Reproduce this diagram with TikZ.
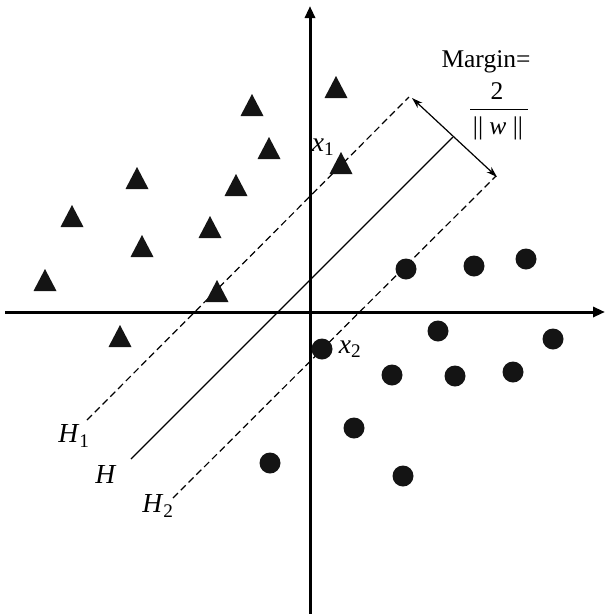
\documentclass[tikz,border=0pt]{standalone}
\usepackage{fontspec}
\setmainfont{Liberation Serif}
\usetikzlibrary{arrows.meta}
\begin{document}
\begin{tikzpicture}[x=1pt,y=-1pt,
  axis/.style={line width=3pt,-{Triangle[length=12pt,width=10pt]}},
  hyper/.style={line width=1.2pt},
  margline/.style={line width=1.2pt,dash pattern=on 7pt off 4pt},
  marrow/.style={line width=1.2pt,{Stealth[length=11pt,width=7pt]}-{Stealth[length=11pt,width=7pt]}},
  lab/.style={inner sep=0pt,font=\fontsize{27.5}{32}\selectfont},
  mlab/.style={inner sep=0pt,font=\fontsize{25.5}{30}\selectfont},
  datapt/.style={fill=black!92}]
\useasboundingbox (0,0) rectangle (605,614);
% axes
\coordinate (yb) at (310,614);
\coordinate (yt) at (310,6);
\coordinate (xl) at (5,312);
\coordinate (xr) at (605,312);
\draw[axis] (yb) -- (yt);
\draw[axis] (xl) -- (xr);
% hyperplanes
\coordinate (H1a) at (87,420);  \coordinate (H1b) at (409,97);
\coordinate (Ha)  at (131,459); \coordinate (Hb)  at (453,137);
\coordinate (H2a) at (173,498); \coordinate (H2b) at (496,176);
\draw[margline] (H1a) -- (H1b);
\draw[hyper] (Ha) -- (Hb);
\draw[margline] (H2a) -- (H2b);
\coordinate (M1) at (412,98);
\coordinate (M2) at (497,177);
\draw[marrow] (M1) -- (M2);
% triangles (center x / base y)
\foreach \cx/\by in {336/98,252/116,269/159,137/189,236/196,341/174,72/227,210/238,142/257,45/291,217/302,120/347}{
  \fill[datapt] (\cx-11.5,\by) -- (\cx+11.5,\by) -- (\cx,\by-22) -- cycle;
}
% circles
\foreach \cx/\cy in {406/269,474/266,526/259,438/331,553/339,322/349,392/375,455/376,513/372,354/428,403/476,270/463}{
  \fill[datapt] (\cx,\cy) circle (10.5pt);
}
% labels
\node[lab] (lx1) at (323,147) {\textit{x}\textsubscript{1}};
\node[lab] (lx2) at (350,349) {\textit{x}\textsubscript{2}};
\node[lab] (lH1) at (74,436) {\textit{H}\textsubscript{1}};
\node[lab] (lH)  at (106,474) {\textit{H}};
\node[lab] (lH2) at (158,506) {\textit{H}\textsubscript{2}};
\node[mlab] (marg) at (486,62) {Margin=};
\node[mlab] (num) at (497,91) {2};
\node[mlab] (den) at (498,128) {|| \textit{w} ||};
\coordinate (barl) at (470,109);
\coordinate (barr) at (528,109);
\draw[line width=1pt] (barl) -- (barr);
\end{tikzpicture}
\end{document}
